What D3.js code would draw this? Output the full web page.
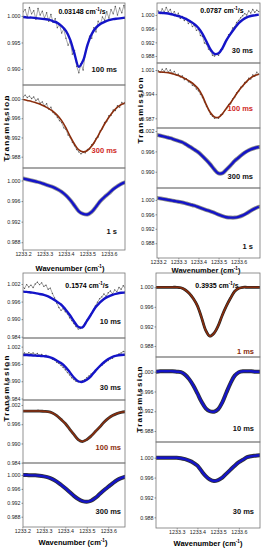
<!DOCTYPE html>
<meta charset="utf-8">
<style>
body { margin: 0; background: #fff; }
text { font-family: "Liberation Sans Narrow", "Arial Narrow", "Liberation Sans", sans-serif; }
.tick text { font-size: 5.3px; fill: #222; }
.tick line { stroke: #333; stroke-width: 0.5; }
.lab { font-size: 7.5px; font-weight: bold; }
.ttl { font-size: 7px; font-weight: bold; }
.ylab { font-size: 8px; font-weight: bold; letter-spacing: 1.3px; }
.xlab { font-size: 7.5px; font-weight: bold; }
</style>
<svg width="263" height="550"></svg>
<script src="https://d3js.org/d3.v7.min.js"></script>
<script>

// wavenumber grids (cm-1)
var wn = [1233.20, 1233.22, 1233.24, 1233.26, 1233.28, 1233.30, 1233.32, 1233.34, 1233.36, 1233.38,
          1233.40, 1233.42, 1233.44, 1233.46, 1233.48, 1233.50, 1233.52, 1233.54, 1233.56, 1233.58,
          1233.60, 1233.62, 1233.64, 1233.66, 1233.68, 1233.70];
var wnData = [1233.20, 1233.21, 1233.22, 1233.23, 1233.24, 1233.25, 1233.26, 1233.27, 1233.28, 1233.29,
              1233.30, 1233.31, 1233.32, 1233.33, 1233.34, 1233.35, 1233.36, 1233.37, 1233.38, 1233.39,
              1233.40, 1233.41, 1233.42, 1233.43, 1233.44, 1233.45, 1233.46, 1233.47, 1233.48, 1233.49,
              1233.50, 1233.51, 1233.52, 1233.53, 1233.54, 1233.55, 1233.56, 1233.57, 1233.58, 1233.59,
              1233.60, 1233.61, 1233.62, 1233.63, 1233.64, 1233.65, 1233.66, 1233.67, 1233.68, 1233.69,
              1233.70];

var xTicks = [1233.2, 1233.3, 1233.4, 1233.5, 1233.6];
var xTicksD = [1233.3, 1233.4, 1233.5, 1233.6];
var rates = ["0.03148", "0.0787", "0.1574", "0.3935"];

// 0.03148 cm-1/s
var fitA1 = [0.9998, 0.9997, 0.9997, 0.9996, 0.9995, 0.9994, 0.9993, 0.9990, 0.9987, 0.9981, 0.9972, 0.9955, 0.9928,
             0.9904, 0.9916, 0.9945, 0.9966, 0.9978, 0.9985, 0.9989, 0.9992, 0.9994, 0.9995, 0.9996, 0.9997, 0.9997];
var dataA1 = [1.0008, 1.0012, 0.9998, 1.0016, 1.0004, 1.0010, 0.9994, 1.0014, 1.0002, 1.0009, 0.9996, 1.0006, 0.9990,
              1.0003, 0.9988, 0.9995, 0.9978, 0.9984, 0.9968, 0.9975, 0.9958, 0.9945, 0.9952, 0.9928, 0.9935, 0.9905,
              0.9893, 0.9910, 0.9898, 0.9930, 0.9942, 0.9962, 0.9958, 0.9978, 0.9970, 0.9990, 0.9984, 0.9998, 0.9992,
              1.0008, 0.9996, 1.0012, 1.0004, 1.0018, 1.0002, 1.0015, 1.0006, 1.0020, 1.0008, 1.0012, 1.0005];
var fitA2 = [0.9999, 0.9997, 0.9995, 0.9992, 0.9989, 0.9985, 0.9980, 0.9974, 0.9966, 0.9955, 0.9940, 0.9922, 0.9906,
             0.9894, 0.9890, 0.9893, 0.9902, 0.9916, 0.9932, 0.9948, 0.9962, 0.9974, 0.9983, 0.9989, 0.9993, 0.9996];
var dataA2 = [1.0004, 1.0008, 1.0003, 1.0006, 1.0001, 1.0004, 0.9997, 1.0000, 0.9991, 0.9994, 0.9986, 0.9990, 0.9979,
              0.9983, 0.9972, 0.9968, 0.9962, 0.9955, 0.9951, 0.9940, 0.9937, 0.9925, 0.9920, 0.9910, 0.9903, 0.9895,
              0.9890, 0.9886, 0.9889, 0.9888, 0.9895, 0.9896, 0.9905, 0.9908, 0.9918, 0.9921, 0.9934, 0.9938, 0.9951,
              0.9953, 0.9965, 0.9966, 0.9977, 0.9976, 0.9986, 0.9983, 0.9993, 0.9990, 0.9997, 0.9995, 0.9999];
var fitA3 = [1.0004, 1.0002, 1.0000, 0.9998, 0.9996, 0.9993, 0.9990, 0.9987, 0.9983, 0.9978, 0.9971, 0.9962, 0.9951,
             0.9940, 0.9935, 0.9934, 0.9939, 0.9949, 0.9960, 0.9968, 0.9975, 0.9983, 0.9989, 0.9994, 0.9997, 0.9999];

// 0.0787 cm-1/s
var fitB1 = [1.0007, 1.0006, 1.0005, 1.0003, 1.0000, 0.9997, 0.9993, 0.9988, 0.9981, 0.9973, 0.9962, 0.9945, 0.9922,
             0.9899, 0.9886, 0.9888, 0.9904, 0.9927, 0.9945, 0.9961, 0.9976, 0.9986, 0.9993, 0.9997, 0.9999, 1.0001];
var dataB1 = [1.0012, 1.0004, 1.0018, 1.0008, 1.0022, 1.0010, 1.0016, 1.0002, 1.0010, 0.9998, 1.0005, 0.9990, 0.9996,
              0.9984, 0.9990, 0.9975, 0.9980, 0.9966, 0.9970, 0.9955, 0.9958, 0.9940, 0.9938, 0.9918, 0.9915, 0.9900,
              0.9895, 0.9882, 0.9880, 0.9885, 0.9882, 0.9898, 0.9900, 0.9920, 0.9925, 0.9942, 0.9946, 0.9962, 0.9965,
              0.9978, 0.9984, 0.9992, 0.9998, 1.0004, 1.0000, 1.0012, 1.0006, 1.0016, 1.0008, 1.0014, 1.0010];
var fitB2 = [1.0005, 1.0004, 1.0003, 1.0001, 0.9998, 0.9994, 0.9989, 0.9983, 0.9976, 0.9967, 0.9955, 0.9935, 0.9908,
             0.9886, 0.9874, 0.9873, 0.9884, 0.9900, 0.9915, 0.9933, 0.9950, 0.9964, 0.9977, 0.9987, 0.9994, 0.9998];
var dataB2 = [1.0008, 1.0003, 1.0012, 1.0006, 1.0014, 1.0004, 1.0010, 1.0000, 1.0006, 0.9996, 0.9998, 0.9990, 0.9993,
              0.9982, 0.9985, 0.9976, 0.9974, 0.9966, 0.9964, 0.9955, 0.9950, 0.9940, 0.9930, 0.9918, 0.9905, 0.9894,
              0.9882, 0.9876, 0.9870, 0.9872, 0.9870, 0.9880, 0.9882, 0.9893, 0.9898, 0.9910, 0.9912, 0.9926, 0.9930,
              0.9944, 0.9948, 0.9960, 0.9962, 0.9974, 0.9975, 0.9986, 0.9984, 0.9996, 0.9992, 1.0004, 0.9998];
var fitB3 = [1.0008, 1.0005, 1.0002, 0.9999, 0.9995, 0.9991, 0.9987, 0.9980, 0.9973, 0.9965, 0.9957, 0.9946, 0.9934,
             0.9921, 0.9906, 0.9895, 0.9896, 0.9907, 0.9919, 0.9932, 0.9942, 0.9952, 0.9960, 0.9966, 0.9970, 0.9973];
var fitB4 = [1.0005, 1.0003, 1.0001, 0.9999, 0.9997, 0.9995, 0.9993, 0.9990, 0.9987, 0.9984, 0.9980, 0.9976, 0.9972,
             0.9968, 0.9964, 0.9959, 0.9955, 0.9952, 0.9951, 0.9951, 0.9953, 0.9957, 0.9963, 0.9970, 0.9976, 0.9981];

// 0.1574 cm-1/s
var fitC1 = [0.9994, 0.9993, 0.9991, 0.9989, 0.9986, 0.9983, 0.9978, 0.9970, 0.9960, 0.9950, 0.9934, 0.9915, 0.9893,
             0.9874, 0.9872, 0.9893, 0.9916, 0.9940, 0.9956, 0.9969, 0.9977, 0.9983, 0.9987, 0.9990, 0.9991, 0.9992];
var dataC1 = [1.0012, 1.0005, 1.0018, 1.0010, 1.0016, 1.0008, 1.0020, 1.0026, 1.0018, 1.0024, 1.0012, 1.0016, 1.0002,
              1.0006, 0.9988, 0.9972, 0.9955, 0.9940, 0.9930, 0.9936, 0.9925, 0.9918, 0.9905, 0.9895, 0.9885, 0.9875,
              0.9866, 0.9868, 0.9874, 0.9885, 0.9896, 0.9905, 0.9918, 0.9930, 0.9945, 0.9958, 0.9970, 0.9976, 0.9986,
              0.9978, 0.9990, 0.9996, 0.9986, 1.0000, 0.9994, 1.0008, 1.0002, 1.0014, 1.0006, 1.0018, 1.0012];
var fitC2 = [0.9991, 0.9991, 0.9990, 0.9989, 0.9988, 0.9987, 0.9985, 0.9980, 0.9972, 0.9963, 0.9950, 0.9932, 0.9913,
             0.9900, 0.9898, 0.9905, 0.9918, 0.9936, 0.9952, 0.9966, 0.9977, 0.9985, 0.9989, 0.9991, 0.9992, 0.9993];
var dataC2 = [0.9994, 0.9998, 0.9994, 0.9999, 0.9995, 0.9998, 0.9993, 0.9996, 0.9990, 0.9993, 0.9988, 0.9990, 0.9984,
              0.9982, 0.9976, 0.9974, 0.9966, 0.9962, 0.9955, 0.9948, 0.9940, 0.9930, 0.9922, 0.9912, 0.9906, 0.9900,
              0.9898, 0.9899, 0.9902, 0.9905, 0.9912, 0.9918, 0.9925, 0.9930, 0.9938, 0.9942, 0.9950, 0.9955, 0.9962,
              0.9968, 0.9972, 0.9978, 0.9980, 0.9986, 0.9990, 0.9995, 0.9998, 1.0003, 1.0002, 1.0006, 1.0004];
var fitC3 = [1.0001, 1.0001, 1.0001, 1.0001, 1.0001, 1.0000, 0.9999, 0.9995, 0.9987, 0.9975, 0.9962, 0.9945, 0.9928,
             0.9912, 0.9906, 0.9912, 0.9923, 0.9937, 0.9951, 0.9966, 0.9978, 0.9987, 0.9993, 0.9997, 0.9999, 1.0000];
var fitC4 = [1.0000, 1.0000, 0.9999, 0.9999, 0.9998, 0.9996, 0.9993, 0.9988, 0.9981, 0.9972, 0.9962, 0.9951, 0.9940,
             0.9931, 0.9925, 0.9923, 0.9926, 0.9934, 0.9945, 0.9956, 0.9966, 0.9976, 0.9985, 0.9991, 0.9995, 0.9997];

// 0.3935 cm-1/s
var fitD1 = [1.0000, 1.0000, 1.0000, 1.0000, 1.0000, 1.0000, 0.9999, 0.9995, 0.9988, 0.9977, 0.9962, 0.9938, 0.9912,
             0.9900, 0.9906, 0.9921, 0.9943, 0.9962, 0.9978, 0.9992, 0.9998, 1.0000, 1.0000, 1.0000, 1.0000, 1.0000];
var fitD2 = [1.0000, 1.0001, 1.0001, 1.0001, 1.0001, 1.0000, 0.9999, 0.9994, 0.9985, 0.9972, 0.9956, 0.9939, 0.9926,
             0.9920, 0.9919, 0.9924, 0.9938, 0.9958, 0.9977, 0.9992, 0.9999, 1.0001, 1.0001, 1.0001, 1.0000, 1.0000];
var fitD3 = [1.0000, 1.0000, 1.0000, 1.0000, 1.0000, 1.0000, 0.9999, 0.9997, 0.9994, 0.9990, 0.9984, 0.9973, 0.9963,
             0.9956, 0.9953, 0.9955, 0.9960, 0.9968, 0.9976, 0.9984, 0.9991, 0.9996, 1.0001, 1.0003, 1.0004, 1.0005];

var ticks4 = [1.000, 0.996, 0.992, 0.988];
var ticks6 = [1.002, 0.996, 0.990, 0.984];

var blue = "#1414c8", brown = "#8a2d0c", red = "#d0281e";

// quadrant layout
var quads = {
  A: {x0: 23, x1: 125, dom: [1233.2, 1233.675], rows: [3, 85, 168, 250], ticks: xTicks, ylx: 6, yly: 128, xlx: 70, xly: 271, tx: 82, ty: 14},
  B: {x0: 157, x1: 260, dom: [1233.194, 1233.706], rows: [3, 63, 128, 188, 258], ticks: xTicks, ylx: 140, yly: 110, xlx: 206, xly: 273, tx: 222, ty: 13},
  C: {x0: 23, x1: 125, dom: [1233.203, 1233.678], rows: [273, 338, 400, 463, 527], ticks: xTicks, ylx: 6, yly: 388, xlx: 73, xly: 545, tx: 87, ty: 288},
  D: {x0: 156, x1: 260, dom: [1233.2, 1233.702], rows: [273, 357, 442, 528], ticks: xTicksD, ylx: 139, yly: 399, xlx: 208, xly: 546, tx: 217, ty: 288}
};

var panels = [
  {q: "A", r: 0, fit: fitA1, data: dataA1, dom: [0.98698, 1.00245], yt: [1.000, 0.995, 0.990], col: blue, lab: "100 ms", lc: "#111", ly: 72},
  {q: "A", r: 1, fit: fitA2, data: dataA2, dom: [0.98565, 1.00291], yt: ticks4, col: brown, lab: "300 ms", lc: red, ly: 153},
  {q: "A", r: 2, fit: fitA3, band: "#9a9a9a", dom: [0.98649, 1.00243], yt: ticks4, col: blue, lab: "1 s", lc: "#111", ly: 234},
  {q: "B", r: 0, fit: fitB1, data: dataB1, dom: [0.98595, 1.00351], yt: ticks4, col: blue, lab: "30 ms", lc: "#111", ly: 53},
  {q: "B", r: 1, fit: fitB2, data: dataB2, dom: [0.98420, 1.00303], yt: [1.001, 0.994, 0.987], col: brown, lab: "100 ms", lc: red, ly: 111},
  {q: "B", r: 2, fit: fitB3, band: "#8a8a8a", dom: [0.98520, 1.00290], yt: [1.002, 0.996, 0.990], col: blue, lab: "300 ms", lc: "#111", ly: 179},
  {q: "B", r: 3, fit: fitB4, band: "#8a8a8a", dom: [0.98390, 1.00330], yt: ticks4, col: blue, lab: "1 s", lc: "#111", ly: 249},
  {q: "C", r: 0, fit: fitC1, data: dataC1, dom: [0.98356, 1.00576], yt: ticks6, col: blue, lab: "10 ms", lc: "#111", ly: 324},
  {q: "C", r: 1, fit: fitC2, data: dataC2, dom: [0.98350, 1.00500], yt: ticks6, col: blue, lab: "30 ms", lc: "#111", ly: 390},
  {q: "C", r: 2, fit: fitC3, band: "#333", dom: [0.98391, 1.00354], yt: ticks6, col: brown, lab: "100 ms", lc: brown, ly: 450},
  {q: "C", r: 3, fit: fitC4, band: "#333", dom: [0.98504, 1.00345], yt: ticks4, col: blue, lab: "300 ms", lc: "#111", ly: 514},
  {q: "D", r: 0, fit: fitD1, band: "#222", dom: [0.98575, 1.00292], yt: ticks4, col: brown, lab: "1 ms", lc: brown, ly: 354},
  {q: "D", r: 1, fit: fitD2, band: "#333", dom: [0.98578, 1.00297], yt: ticks4, col: blue, lab: "10 ms", lc: "#111", ly: 431},
  {q: "D", r: 2, fit: fitD3, band: "#333", dom: [0.98585, 1.00316], yt: ticks4, col: blue, lab: "30 ms", lc: "#111", ly: 514}
];

var svg = d3.select("svg");
var defs = svg.append("defs");
svg.append("rect").attr("width", 263).attr("height", 550).attr("fill", "#fff");

var qi = 0;
Object.keys(quads).forEach(function(k) {
  var q = quads[k];
  q.x = d3.scaleLinear().domain(q.dom).range([q.x0, q.x1]);

  // rate title
  var t = svg.append("text").attr("class", "ttl").attr("x", q.tx).attr("y", q.ty).attr("text-anchor", "middle");
  t.append("tspan").text(rates[qi] + " cm");
  t.append("tspan").attr("font-size", "4.5px").attr("dy", -2.6).text("-1");
  t.append("tspan").attr("dy", 2.6).text("/s");
  qi += 1;

  // y label
  svg.append("text").attr("class", "ylab")
      .attr("transform", "translate(" + q.ylx + "," + q.yly + ") rotate(-90)")
      .attr("text-anchor", "middle").attr("dominant-baseline", "central")
      .text("Transmission");

  // x axis under the last panel
  var bottom = q.rows[q.rows.length - 1];
  svg.append("g")
      .attr("transform", "translate(0," + bottom + ")")
      .call(d3.axisBottom(q.x).tickValues(q.ticks).tickSize(1.5).tickPadding(1).tickFormat(d3.format(".1f")))
    .select(".domain").remove();

  var xl = svg.append("text").attr("class", "xlab").attr("x", q.xlx).attr("y", q.xly).attr("text-anchor", "middle");
  xl.append("tspan").text("Wavenumber (cm");
  xl.append("tspan").attr("font-size", "4.5px").attr("dy", -2.8).text("-1");
  xl.append("tspan").attr("dy", 2.8).text(")");
});

panels.forEach(function(p, i) {
  var q = quads[p.q];
  var top = q.rows[p.r], bot = q.rows[p.r + 1];
  var x = q.x;
  var y = d3.scaleLinear().domain(p.dom).range([bot, top]);
  var id = "clip" + i;

  defs.append("clipPath").attr("id", id)
    .append("rect").attr("x", q.x0).attr("y", top).attr("width", q.x1 - q.x0).attr("height", bot - top);

  var pg = svg.append("g").attr("clip-path", "url(#" + id + ")");

  var fitLine = d3.line()
      .x(function(d, j) { return x(wn[j]); })
      .y(function(d) { return y(d); })
      .curve(d3.curveCatmullRom);

  if (p.data) {
    var dataLine = d3.line()
        .x(function(d, j) { return x(wnData[j]); })
        .y(function(d) { return y(d); });
    pg.append("path").datum(p.data)
        .attr("fill", "none").attr("stroke", "#6a6a6a").attr("stroke-width", 0.6)
        .attr("d", dataLine);
    pg.selectAll(".pt").data(p.data).enter().append("circle")
        .attr("cx", function(d, j) { return x(wnData[j]); })
        .attr("cy", function(d) { return y(d); })
        .attr("r", 0.7).attr("fill", "#555");
  } else {
    pg.append("path").datum(p.fit)
        .attr("fill", "none").attr("stroke", p.band)
        .attr("stroke-width", p.col === brown ? 2.8 : 4)
        .attr("stroke-linecap", "round")
        .attr("d", fitLine);
  }

  pg.append("path").datum(p.fit)
      .attr("fill", "none").attr("stroke", p.col)
      .attr("stroke-width", p.col === brown ? 1.6 : 2.4)
      .attr("stroke-linejoin", "round")
      .attr("d", fitLine);

  svg.append("rect")
      .attr("x", q.x0).attr("y", top).attr("width", q.x1 - q.x0).attr("height", bot - top)
      .attr("fill", "none").attr("stroke", "#777").attr("stroke-width", 0.8);

  svg.append("g")
      .attr("transform", "translate(" + q.x0 + ",0)")
      .call(d3.axisLeft(y).tickValues(p.yt).tickSize(1.5).tickPadding(1).tickFormat(d3.format(".3f")))
    .select(".domain").remove();

  var lxOff = {A: 8, B: 7, C: 4, D: 6};
  svg.append("text").attr("class", "lab")
      .attr("x", q.x1 - lxOff[p.q]).attr("y", p.ly)
      .attr("text-anchor", "end").attr("fill", p.lc)
      .text(p.lab);
});
</script>
